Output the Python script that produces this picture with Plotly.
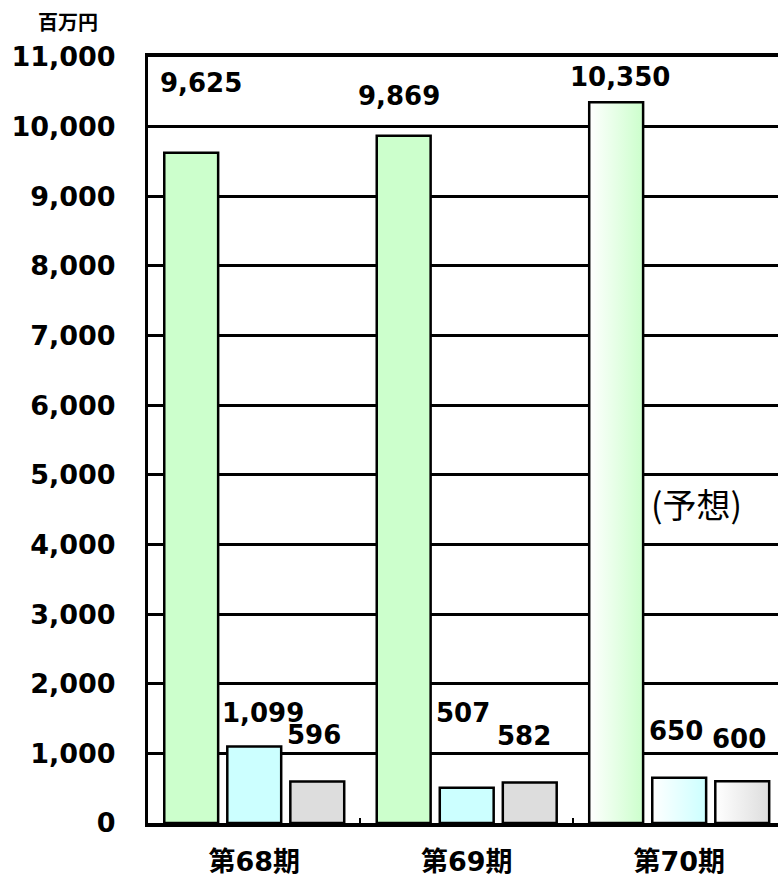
import plotly.graph_objects as go

# Periods on the category axis; the last one is a forecast
periods = ["第68期", "第69期", "第70期"]
is_forecast = [False, False, True]

# Values in millions of yen
series_names = ["売上高", "営業利益", "経常利益"]
sales = [9625, 9869, 10350]
operating = [1099, 507, 650]
ordinary = [596, 582, 600]

y_ticks = list(range(0, 11001, 1000))

series_values = [sales, operating, ordinary]
series_colors = ["#ccffcc", "#ccffff", "#dddddd"]

# Pixel nudges (dx, dy) for each value label, per series and period
label_shifts = [
    [(10, 70), (-5, 40), (4, 25)],
    [(9, 33), (-4, 75), (-3, 47)],
    [(-3, 47), (-6, 46), (-3, 42)],
]

NUM_FONT = "DejaVu Sans, Noto Sans CJK JP, sans-serif"
CJK_FONT = "Noto Sans CJK JP, sans-serif"

BARGAP = 0.11
GROUPGAP = 0.145
n_series = len(series_values)
slot = (1 - BARGAP) / n_series
bar_w = slot * (1 - GROUPGAP)

fig = go.Figure()

actual_idx = [i for i, f in enumerate(is_forecast) if not f]
forecast_idx = [i for i, f in enumerate(is_forecast) if f]

for k, (name, vals, color) in enumerate(zip(series_names, series_values, series_colors)):
    fig.add_trace(go.Bar(
        x=actual_idx,
        y=[vals[i] for i in actual_idx],
        name=name,
        marker=dict(color=color, line=dict(color="black", width=2.5)),
        hoverinfo="skip",
    ))
    # Forecast bars: white-to-colour horizontal gradient
    for i in forecast_idx:
        xc = i + (k - (n_series - 1) / 2) * slot
        x0, x1 = xc - bar_w / 2, xc + bar_w / 2
        v = vals[i]
        fig.add_trace(go.Scatter(
            x=[x0, x0, x1, x1, x0],
            y=[0, v, v, 0, 0],
            mode="lines",
            fill="toself",
            fillgradient=dict(type="horizontal",
                              colorscale=[[0, "#ffffff"], [1, color]]),
            line=dict(color="black", width=2.5),
            hoverinfo="skip",
            showlegend=False,
        ))

# Value labels
annotations = []
for k, vals in enumerate(series_values):
    for i, v in enumerate(vals):
        dx, dy = label_shifts[k][i]
        annotations.append(dict(
            x=i + (k - (n_series - 1) / 2) * slot, y=v,
            xref="x", yref="y",
            text=f"{v:,}", showarrow=False,
            xanchor="center", yanchor="middle",
            xshift=dx, yshift=dy,
            font=dict(family=NUM_FONT, size=26, color="black", weight="bold"),
        ))

# Forecast note
annotations.append(dict(
    x=forecast_idx[0] + 0.083, y=4588, xref="x", yref="y",
    text="(予想)", showarrow=False, xanchor="center", yanchor="middle",
    font=dict(family=CJK_FONT, size=34, color="black"),
))

# Unit label
annotations.append(dict(
    x=0, y=1, xref="paper", yref="paper",
    text="百万円", showarrow=False, xanchor="center", yanchor="middle",
    xshift=-80, yshift=36,
    font=dict(family=CJK_FONT, size=20, color="black", weight="bold"),
))

fig.update_layout(
    width=778, height=877,
    margin=dict(l=148, r=0, t=57, b=48),
    barmode="group",
    bargap=BARGAP,
    bargroupgap=GROUPGAP,
    plot_bgcolor="white",
    paper_bgcolor="white",
    showlegend=False,
    annotations=annotations,
)

fig.update_xaxes(
    range=[-0.5, 2.465],
    tickvals=list(range(len(periods))),
    ticktext=periods,
    showgrid=False, zeroline=False,
    showline=True, linecolor="black", linewidth=3.5, mirror=True,
    ticks="",
    ticklabelstandoff=12,
    minor=dict(tickvals=[0.5, 1.5], ticks="inside", ticklen=5,
               tickcolor="black", tickwidth=2),
    tickfont=dict(family=NUM_FONT, size=27, color="black", weight="bold"),
)

fig.update_yaxes(
    range=[0, 11000],
    tickvals=y_ticks,
    tickformat=",",
    showgrid=True, gridcolor="black", gridwidth=2.5,
    zeroline=False,
    showline=True, linecolor="black", linewidth=3,
    ticks="",
    ticklabelstandoff=24,
    tickfont=dict(family=NUM_FONT, size=27, color="black", weight="bold"),
)

fig.write_html("out.html")
